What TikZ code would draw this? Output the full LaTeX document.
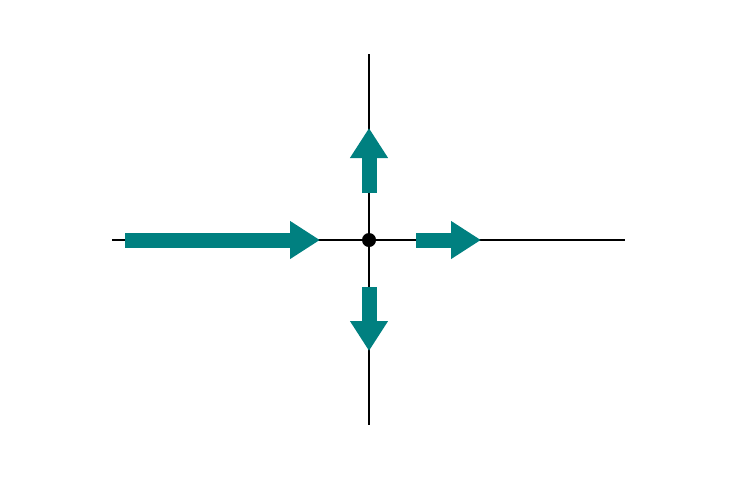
\documentclass[tikz,border=0pt]{standalone}
\usetikzlibrary{arrows.meta}
\definecolor{teal}{HTML}{008080}
\begin{document}
\begin{tikzpicture}[x=1pt,y=-1pt,
  axis/.style={line width=2.4pt,black},
  flowarrow/.style={line width=15pt,teal,-{Triangle[length=30pt,width=36pt]}},
  centerdot/.style={circle,fill=black,inner sep=0pt,minimum size=14pt}]
\useasboundingbox (0,0) rectangle (738,480);
\coordinate (L) at (112,240);
\coordinate (R) at (625,240);
\coordinate (T) at (369,54);
\coordinate (B) at (369,425);
\draw[axis] (L) -- (R);
\draw[axis] (T) -- (B);
\node[centerdot] (c) at (369,240) {};
\coordinate (inS) at (125,240);
\coordinate (inE) at (320,240);
\coordinate (rS) at (416,240);
\coordinate (rE) at (481,240);
\coordinate (uS) at (369,193);
\coordinate (uE) at (369,128);
\coordinate (dS) at (369,287);
\coordinate (dE) at (369,351);
\draw[flowarrow] (inS) -- (inE);
\draw[flowarrow] (rS) -- (rE);
\draw[flowarrow] (uS) -- (uE);
\draw[flowarrow] (dS) -- (dE);
\end{tikzpicture}
\end{document}
